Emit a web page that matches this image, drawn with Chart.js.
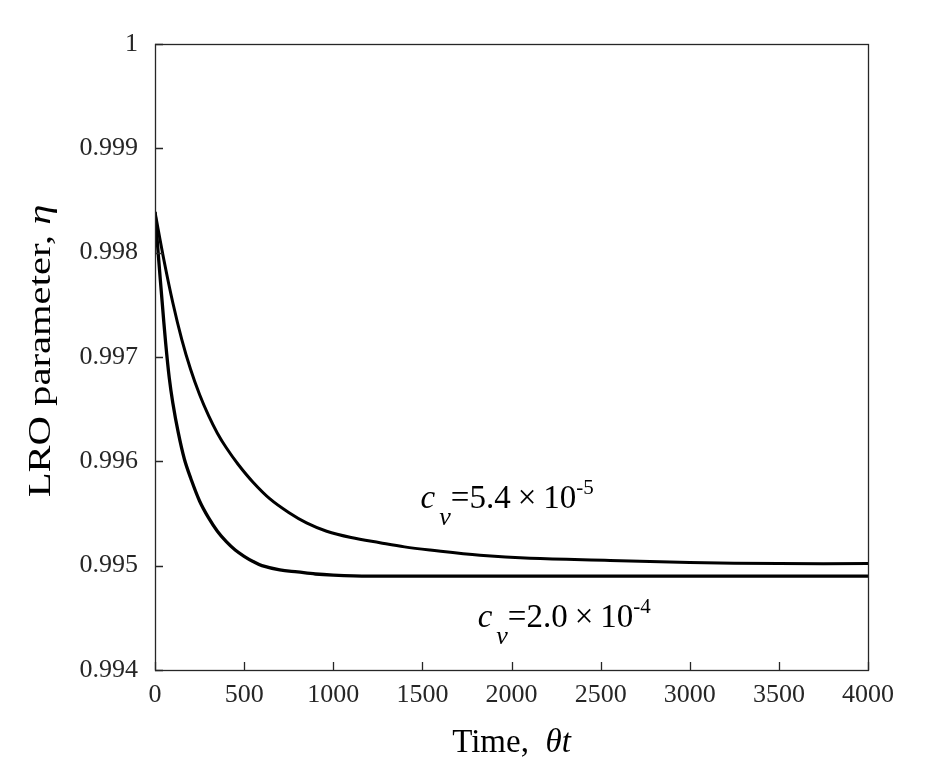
<!DOCTYPE html>
<html>
<head>
<meta charset="utf-8">
<script src="https://cdn.jsdelivr.net/npm/chart.js@4.4.1/dist/chart.umd.min.js"></script>
<style>
  html, body { margin: 0; padding: 0; background: #ffffff; }
  #wrap { width: 942px; height: 775px; }
</style>
</head>
<body>
<div id="wrap"><canvas id="c" width="942" height="775"></canvas></div>
<script>
// ---- data ----
const timeUpper = [0, 50, 100, 150, 200, 250, 300, 350, 400, 467, 550, 645, 750, 850, 963, 1100, 1262, 1400, 1543, 1823, 2104, 2553, 3000, 3500, 4000];
const etaUpper  = [0.99839, 0.99793, 0.99752, 0.99717, 0.99688, 0.99664, 0.99644, 0.99627, 0.99613, 0.99597, 0.99580, 0.99564, 0.99551, 0.99541, 0.99533, 0.99527, 0.99522, 0.99518, 0.99515, 0.99510, 0.99507, 0.99505, 0.99503, 0.99502, 0.99502];

const timeLower = [0, 20, 40, 60, 80, 100, 130, 165, 200, 250, 300, 350, 400, 450, 500, 550, 600, 700, 800, 900, 1000, 1200, 1500, 2000, 3000, 4000];
const etaLower  = [0.99839, 0.99795, 0.99753, 0.99713, 0.99680, 0.99656, 0.99628, 0.99602, 0.99584, 0.99562, 0.99546, 0.99533, 0.99523, 0.99515, 0.99509, 0.99504, 0.99500, 0.99496, 0.99494, 0.99492, 0.99491, 0.99490, 0.99490, 0.99490, 0.99490, 0.99490];

const xTickValues = [0, 500, 1000, 1500, 2000, 2500, 3000, 3500, 4000];
const yTickValues = [0.994, 0.995, 0.996, 0.997, 0.998, 0.999, 1];

const labelUpper = { mant: '5.4', exp: '-5', t: 1490, eta: 0.99555 };
const labelLower = { mant: '2.0', exp: '-4', t: 1810, eta: 0.994413 };

const xTitleRoman = 'Time,  ';
const xTitleItalic = '\u03B8t';
const yTitleRoman = 'LRO parameter, ';
const yTitleItalic = '\u03B7';

// ---- chart ----
const SERIF = '"Liberation Serif", "DejaVu Serif", serif';
const TICK_FONT = 26;
const XTITLE_FONT = 33;
const YTITLE_FONT = 32;
const ANN_FONT = 33;
const AXIS_COLOR = '#262626';

function toXY(ts, es) { return ts.map((t, i) => ({ x: t, y: es[i] })); }

function drawPieces(ctx, pieces, x, y) {
  pieces.forEach(p => {
    ctx.font = p.font;
    ctx.fillText(p.text, x + (p.dx || 0), y + (p.dy || 0));
    x += ctx.measureText(p.text).width + (p.dx || 0) + (p.after || 0);
  });
}

const framePlugin = {
  id: 'frame',
  afterDatasetsDraw(chart) {
    const ctx = chart.ctx;
    const a = chart.chartArea;
    const xs = chart.scales.x, ys = chart.scales.y;
    ctx.save();
    ctx.strokeStyle = AXIS_COLOR;
    ctx.lineWidth = 1.3;
    ctx.strokeRect(Math.round(a.left) + 0.5, Math.round(a.top) + 0.5, Math.round(a.right - a.left), Math.round(a.bottom - a.top));
    // inward ticks on left and bottom
    const tl = 8;
    ctx.beginPath();
    yTickValues.forEach(v => {
      const py = Math.round(ys.getPixelForValue(v)) + 0.5;
      ctx.moveTo(a.left, py); ctx.lineTo(a.left + tl, py);
    });
    xTickValues.forEach(v => {
      const px = Math.round(xs.getPixelForValue(v)) + 0.5;
      ctx.moveTo(px, a.bottom); ctx.lineTo(px, a.bottom - tl);
    });
    ctx.stroke();

    // annotations
    ctx.fillStyle = '#000';
    ctx.textBaseline = 'alphabetic';
    ctx.textAlign = 'left';
    const F = ANN_FONT + 'px ' + SERIF;
    const FI = 'italic ' + ANN_FONT + 'px ' + SERIF;
    const FS = 'italic ' + Math.round(ANN_FONT * 0.78) + 'px ' + SERIF;
    const FU = Math.round(ANN_FONT * 0.64) + 'px ' + SERIF;
    [labelUpper, labelLower].forEach(L => {
      const x = xs.getPixelForValue(L.t);
      const y = ys.getPixelForValue(L.eta);
      drawPieces(ctx, [
        { text: 'c', font: FI, after: 4 },
        { text: 'v', font: FS, dy: 17 },
        { text: '=' + L.mant, font: F, after: 7 },
        { text: '\u00D7', font: F, after: 7 },
        { text: '10', font: F },
        { text: L.exp, font: FU, dy: -14 }
      ], x, y);
    });

    // x title
    ctx.font = XTITLE_FONT + 'px ' + SERIF;
    const w1 = ctx.measureText(xTitleRoman).width;
    ctx.font = 'italic ' + XTITLE_FONT + 'px ' + SERIF;
    const w2 = ctx.measureText(xTitleItalic).width;
    const cx = (a.left + a.right) / 2;
    const sx = cx - (w1 + w2) / 2;
    const by = 752;
    ctx.font = XTITLE_FONT + 'px ' + SERIF;
    ctx.fillText(xTitleRoman, sx, by);
    ctx.font = 'italic ' + XTITLE_FONT + 'px ' + SERIF;
    ctx.fillText(xTitleItalic, sx + w1, by);

    // y title (rotated)
    ctx.save();
    ctx.translate(50, 351);
    ctx.rotate(-Math.PI / 2);
    ctx.scale(1.27, 1);
    ctx.font = YTITLE_FONT + 'px ' + SERIF;
    const v1 = ctx.measureText(yTitleRoman).width;
    ctx.font = 'italic ' + YTITLE_FONT + 'px ' + SERIF;
    const v2 = ctx.measureText(yTitleItalic).width;
    const sy = -(v1 + v2) / 2;
    ctx.font = YTITLE_FONT + 'px ' + SERIF;
    ctx.fillText(yTitleRoman, sy, 0);
    ctx.font = 'italic ' + YTITLE_FONT + 'px ' + SERIF;
    ctx.fillText(yTitleItalic, sy + v1, 0);
    ctx.restore();
    ctx.restore();
  }
};

new Chart(document.getElementById('c'), {
  type: 'line',
  data: {
    datasets: [
      { label: 'cv = 5.4e-5', data: toXY(timeUpper, etaUpper), borderColor: '#000', borderWidth: 3, pointRadius: 0, fill: false, tension: 0.35 },
      { label: 'cv = 2.0e-4', data: toXY(timeLower, etaLower), borderColor: '#000', borderWidth: 3.3, pointRadius: 0, fill: false, tension: 0.35 }
    ]
  },
  options: {
    responsive: false,
    animation: false,
    layout: { padding: { left: 0, top: 44, right: 74, bottom: 0 } },
    plugins: { legend: { display: false }, tooltip: { enabled: false }, title: { display: false } },
    scales: {
      x: {
        type: 'linear', min: 0, max: 4000,
        afterBuildTicks: s => { s.ticks = xTickValues.map(v => ({ value: v })); },
        afterFit: s => { s.height = 105; },
        grid: { display: false, drawTicks: false },
        border: { display: false },
        ticks: { color: '#262626', font: { family: SERIF, size: TICK_FONT }, padding: 10, maxRotation: 0, autoSkip: false, callback: v => String(v) }
      },
      y: {
        type: 'linear', min: 0.994, max: 1,
        afterBuildTicks: s => { s.ticks = yTickValues.map(v => ({ value: v })); },
        afterFit: s => { s.width = 155; },
        grid: { display: false, drawTicks: false },
        border: { display: false },
        ticks: { color: '#262626', font: { family: SERIF, size: TICK_FONT }, padding: 17, autoSkip: false, callback: v => (Math.abs(v - 1) < 1e-9 ? '1' : v.toFixed(3)) }
      }
    }
  },
  plugins: [framePlugin]
});
</script>
</body>
</html>
